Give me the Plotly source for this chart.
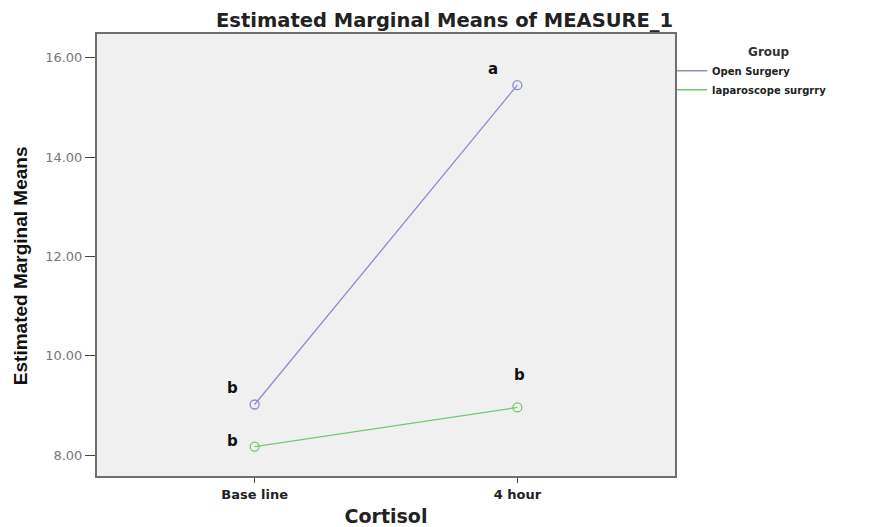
import plotly.graph_objects as go

categories = ["Base line", "4 hour"]
groups = ["Open Surgery", "laparoscope surgrry"]
open_surgery = [9.02, 15.45]
laparoscope = [8.17, 8.96]
open_letters = ["b", "a"]
lap_letters = ["b", "b"]
y_ticks = [8, 10, 12, 14, 16]
y_tick_labels = ["8.00", "10.00", "12.00", "14.00", "16.00"]

colors = ["#8c8cd2", "#72c872"]
series = [open_surgery, laparoscope]
letters = [open_letters, lap_letters]
# pixel offsets of letter labels relative to their points
offsets = [[(-22, -16), (-24, -16)], [(-22, -6), (2, -32)]]

fig = go.Figure()
for name, vals, col in zip(groups, series, colors):
    fig.add_trace(go.Scatter(
        x=categories, y=vals, mode="lines+markers", name=name,
        line=dict(color=col, width=1.3),
        marker=dict(symbol="circle-open", size=9, color=col, line=dict(width=1.3)),
        showlegend=False,
    ))
for name, col in zip(groups, colors):
    fig.add_trace(go.Scatter(
        x=[None], y=[None], mode="lines", name=name,
        line=dict(color=col, width=1.3), showlegend=True,
    ))

for vals, labs, offs in zip(series, letters, offsets):
    for cat, v, lab, (ax, ay) in zip(categories, vals, labs, offs):
        fig.add_annotation(
            x=cat, y=v, text=lab, showarrow=False,
            xshift=ax, yshift=-ay,
            font=dict(family="DejaVu Sans", size=15, color="#111", weight="bold"),
        )

# y-axis title placed as a rotated annotation (sits slightly below plot centre)
fig.add_annotation(
    text="Estimated Marginal Means", xref="paper", yref="paper",
    x=-0.133, y=0.475, xanchor="center", yanchor="middle",
    textangle=-90, showarrow=False,
    font=dict(family="Liberation Sans Narrow, Arial Narrow, sans-serif",
              size=19, color="#111", weight="bold"),
)

# page has an 8px body margin, so the figure is sized to the remaining window
fig.update_layout(
    width=868, height=519,
    margin=dict(l=89, r=201, t=26, b=51),
    paper_bgcolor="white", plot_bgcolor="#f0f0f0",
    title=dict(
        text="Estimated Marginal Means of MEASURE_1",
        x=0.503, xref="container", xanchor="center",
        y=0.977, yref="container", yanchor="middle",
        font=dict(family="DejaVu Sans", size=19.5, color="#222", weight="bold"),
    ),
    legend=dict(
        x=0.995, y=0.985, xanchor="left", yanchor="top",
        title=dict(text="&nbsp;&nbsp;&nbsp;&nbsp;&nbsp;&nbsp;&nbsp;&nbsp;Group", side="top center",
                   font=dict(family="DejaVu Sans", size=12, color="#333", weight="bold")),
        font=dict(family="DejaVu Sans", size=10, color="#222", weight="bold"),
        tracegroupgap=0, itemwidth=30,
        bgcolor="rgba(0,0,0,0)",
    ),
    xaxis=dict(
        type="category", range=[-0.6, 1.6], automargin=False,
        showgrid=False, zeroline=False,
        showline=True, linecolor="#6e6e6e", linewidth=2, mirror=True,
        ticks="outside", ticklen=5, tickcolor="#444",
        tickfont=dict(family="DejaVu Sans", size=13, color="#222", weight="bold"),
        title=dict(text="Cortisol", standoff=11,
                   font=dict(family="DejaVu Sans", size=19, color="#222", weight="bold")),
    ),
    yaxis=dict(
        range=[7.58, 16.48], automargin=False,
        tickvals=y_ticks, ticktext=y_tick_labels,
        showgrid=False, zeroline=False,
        showline=True, linecolor="#6e6e6e", linewidth=2, mirror=True,
        ticks="outside", ticklen=10, tickcolor="#444",
        tickfont=dict(family="DejaVu Sans", size=13, color="#777"),
    ),
)

fig.write_html("out.html")
